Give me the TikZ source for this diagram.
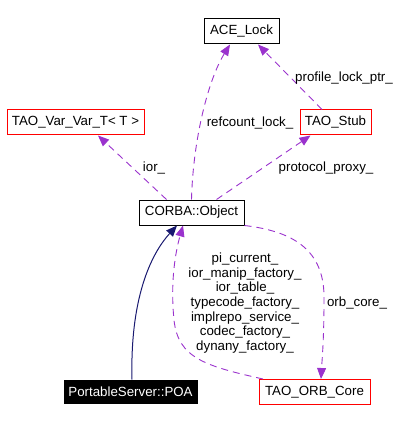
\documentclass[tikz,border=0pt]{standalone}
\usepackage{fontspec}
\setmainfont{Liberation Sans}
\usetikzlibrary{arrows.meta}

\definecolor{usecol}{HTML}{9A32CD}
\definecolor{inhcol}{HTML}{191970}

\tikzset{
  cls/.style={draw=black, line width=1pt, minimum height=25pt, inner sep=0pt, font=\fontsize{13.3}{14.6}\selectfont},
  redcls/.style={cls, draw=red},
  uses/.style={usecol, line width=0.9pt, dashed, dash pattern=on 7pt off 5pt, -{Triangle[length=11pt,width=9pt]}},
  lbl/.style={font=\fontsize{13.3}{14.6}\selectfont, inner sep=0pt}
}

\begin{document}
\begin{tikzpicture}[x=1pt,y=-1pt]
\useasboundingbox (0,0) rectangle (419,422);

\node[cls, minimum width=75pt] (acelock) at (241.5,31.5) {ACE\_Lock};
\node[redcls, minimum width=137pt] (varvar) at (75.5,122.5) {TAO\_Var\_Var\_T< T >};
\node[redcls, minimum width=71pt] (stub) at (335.5,122.5) {TAO\_Stub};
\node[cls, minimum width=105pt] (corba) at (191.5,212.5) {CORBA::Object};
\node[cls, fill=black, text=white, minimum width=133pt, minimum height=23pt] (poa) at (130.5,391.5) {PortableServer::POA};
\node[redcls, minimum width=111pt] (orbcore) at (314.5,392) {TAO\_ORB\_Core};

% inheritance
\draw[inhcol, line width=1pt, -{Triangle[length=11pt,width=9pt]}] ([xshift=1.5pt]poa.north) .. controls (130,300) and (150,255) .. ([xshift=-14.5pt]corba.south);

% usage edges
\draw[uses] (corba.north) .. controls (193,140) and (208,80) .. ([xshift=-11.5pt]acelock.south);
\draw[uses] ([xshift=-13.5pt]stub.north) -- ([xshift=16.5pt]acelock.south);
\draw[uses] ([xshift=-25pt]corba.north) -- ([xshift=22.5pt]varvar.south);
\draw[uses] ([xshift=25pt]corba.north) -- ([xshift=-25pt]stub.south);
\draw[uses] ([xshift=-51.5pt]orbcore.north) .. controls (205,366) and (178,358) .. (174,320)
  .. controls (170,280) and (176,250) .. ([xshift=-8.5pt]corba.south);
\draw[uses] (corba.south east) .. controls (300,232) and (325,255) .. (324,300)
  .. controls (324,340) and (322,360) .. ([xshift=6.5pt]orbcore.north);

% labels
\node[lbl] (lrefcount) at (250,123) {refcount\_lock\_};
\node[lbl] (lprofile) at (344,78) {profile\_lock\_ptr\_};
\node[lbl] (lior) at (154,168) {ior\_};
\node[lbl] (lproxy) at (326,168) {protocol\_proxy\_};
\node[lbl] (lorbcore) at (357,303) {orb\_core\_};
\node[lbl, align=center] (lmany) at (245,303) {pi\_current\_\\ior\_manip\_factory\_\\ior\_table\_\\typecode\_factory\_\\implrepo\_service\_\\codec\_factory\_\\dynany\_factory\_};

\end{tikzpicture}
\end{document}
